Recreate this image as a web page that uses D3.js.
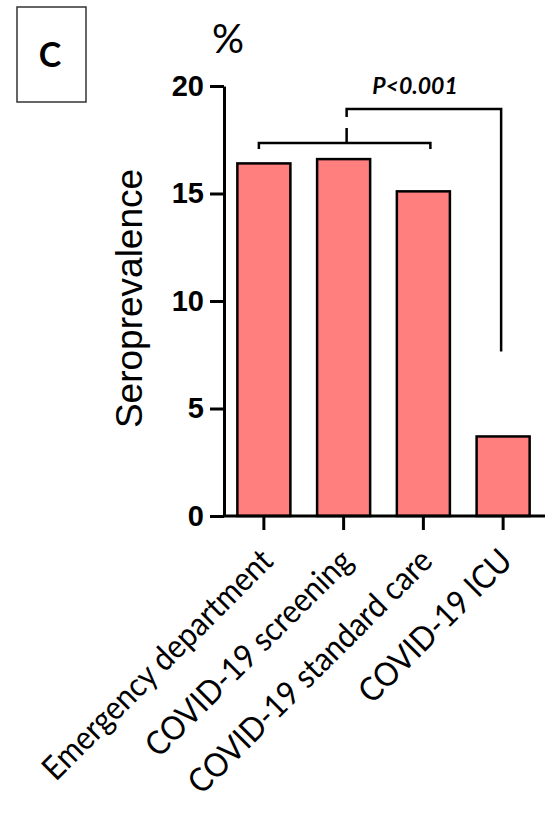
<!DOCTYPE html>
<html>
<head>
<meta charset="utf-8">
<script src="https://cdn.jsdelivr.net/npm/d3@7/dist/d3.min.js"></script>
<style>
  html, body { margin: 0; padding: 0; background: #fff; }
  svg { display: block; }
</style>
</head>
<body>
<svg id="chart" width="545" height="814"></svg>
<script>
const categories = ["Emergency department", "COVID-19 screening", "COVID-19 standard care", "COVID-19 ICU"];
const values = [16.4, 16.6, 15.1, 3.7];
const yTicks = [0, 5, 10, 15, 20];
const yLabel = "Seroprevalence";
const unitLabel = "%";
const panelLabel = "C";
const pLabel = "P<0.001";

const svg = d3.select("#chart");

const x = d3.scaleBand().domain(categories).range([224, 543]).paddingInner(0.335).paddingOuter(0.1675);
const y = d3.scaleLinear().domain([0, 20]).range([516, 86]);

// Panel label box
svg.append("rect").attr("x", 17).attr("y", 7).attr("width", 69).attr("height", 95)
  .attr("fill", "none").attr("stroke", "#333").attr("stroke-width", 1.5);
svg.append("text").attr("x", 50).attr("y", 67).attr("text-anchor", "middle")
  .attr("font-family", "Lato, 'Open Sans', sans-serif").attr("font-weight", "bold")
  .attr("font-size", 34).attr("fill", "#000").text(panelLabel);

// Unit label
svg.append("text").attr("x", 228).attr("y", 53).attr("text-anchor", "middle")
  .attr("font-family", "Lato, sans-serif").attr("font-size", 40).attr("fill", "#000").text(unitLabel);

// Bars
svg.append("g").selectAll("rect").data(values).join("rect")
  .attr("x", (d, i) => x(categories[i]))
  .attr("y", d => y(d))
  .attr("width", x.bandwidth())
  .attr("height", d => y(0) - y(d))
  .attr("fill", "#FF7F7F").attr("stroke", "#000").attr("stroke-width", 2.5);

// Y axis
const yAxis = svg.append("g").attr("transform", "translate(224,0)")
  .call(d3.axisLeft(y).tickValues(yTicks).tickSize(14).tickSizeOuter(0).tickPadding(6));
yAxis.select(".domain").attr("stroke-width", 3).attr("stroke", "#000");
yAxis.selectAll(".tick line").attr("stroke-width", 3).attr("stroke", "#000");
yAxis.selectAll(".tick text").attr("font-family", "'Liberation Sans', Arial, sans-serif")
  .attr("font-weight", "bold").attr("font-size", 29).attr("fill", "#000");

// X axis
const xAxis = svg.append("g").attr("transform", `translate(0,${y(0)})`)
  .call(d3.axisBottom(x).tickSize(14).tickSizeOuter(0));
xAxis.select(".domain").attr("d", "M224,0H545").attr("stroke-width", 3).attr("stroke", "#000");
xAxis.selectAll(".tick line").attr("stroke-width", 3).attr("stroke", "#000");
xAxis.selectAll(".tick text")
  .attr("font-family", "Lato, 'Open Sans', sans-serif").attr("font-size", 33).attr("fill", "#000")
  .attr("text-anchor", "end").attr("x", 0).attr("y", 0).attr("dy", 0)
  .attr("transform", "translate(11,47) rotate(-45) scale(0.92,1)");

// Y label
svg.append("text").attr("transform", `translate(142,${(172 + 425) / 2}) rotate(-90)`)
  .attr("text-anchor", "middle")
  .attr("font-family", "'Liberation Sans', Arial, sans-serif").attr("font-size", 37).attr("fill", "#000")
  .text(yLabel);

// Significance brackets
const c = i => x(categories[i]) + x.bandwidth() / 2;
const br = svg.append("g").attr("fill", "none").attr("stroke", "#000").attr("stroke-width", 2.5);
const yLow = 143, yHigh = 109;
br.append("path").attr("d", `M${c(0) - 5},${yLow + 6}V${yLow}H${c(2) + 7}V${yLow + 6}`);
br.append("path").attr("d", `M${c(1) + 3},${yLow}V${yLow - 15}`);
br.append("path").attr("d", `M${c(1) + 3},${yHigh + 8}V${yHigh}H${c(3) - 2}V${y(values[3]) - 85}`);
svg.append("text").attr("x", 415).attr("y", 94).attr("text-anchor", "middle")
  .attr("font-family", "Lato, sans-serif").attr("font-weight", "bold").attr("font-style", "italic")
  .attr("font-size", 23).attr("fill", "#000").text(pLabel);
</script>
</body>
</html>
